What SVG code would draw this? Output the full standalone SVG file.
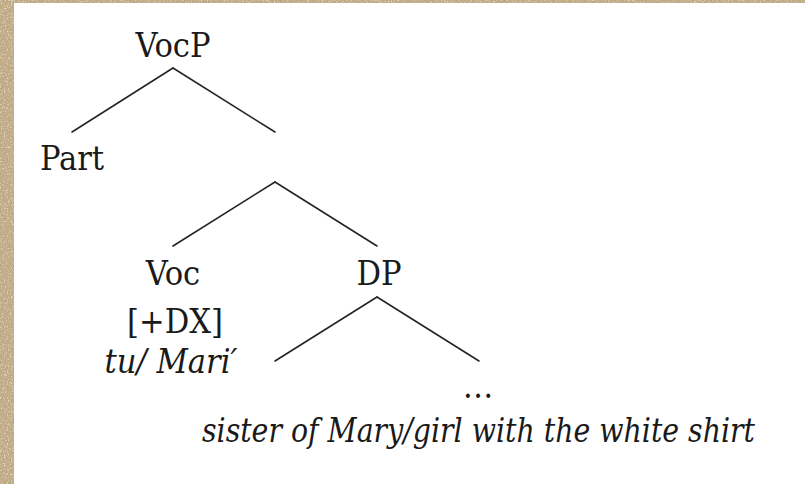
<svg xmlns="http://www.w3.org/2000/svg" width="805" height="484" viewBox="0 0 805 484">
  <defs>
    <!-- mottled paper grain for the frame -->
    <filter id="paper" x="0" y="0" width="100%" height="100%">
      <feTurbulence type="fractalNoise" baseFrequency="0.7" numOctaves="3" seed="4" result="noise"/>
      <feColorMatrix in="noise" type="matrix" values="0 0 0 0 0.45  0 0 0 0 0.37  0 0 0 0 0.25  0 0 0 3 -1.35" result="dark"/>
      <feColorMatrix in="noise" type="matrix" values="0 0 0 0 0.90  0 0 0 0 0.84  0 0 0 0 0.70  0 0 0 -3 1.25" result="light"/>
      <feMerge result="grain"><feMergeNode in="dark"/><feMergeNode in="light"/></feMerge>
      <feComposite in="grain" in2="SourceGraphic" operator="atop"/>
    </filter>
    <style>
      .lbl { font-family: 'DejaVu Serif', serif; font-stretch: condensed; font-size: 34px; fill: #1a1a1a; text-anchor: middle; }
      .it { font-style: italic; }
      .edge { stroke: #222; stroke-width: 1.5; stroke-linecap: round; fill: none; }
    </style>
  </defs>

  <!-- parchment frame with white page on top -->
  <rect x="0" y="0" width="805" height="484" fill="#c6b08a" filter="url(#paper)"/>
  <rect x="14" y="3" width="791" height="481" fill="#ffffff"/>

  <!-- tree branches -->
  <g id="connectors">
    <line class="edge" x1="173" y1="68" x2="72" y2="132"/>
    <line class="edge" x1="173" y1="68" x2="275" y2="132"/>
    <line class="edge" x1="275" y1="182" x2="173" y2="246"/>
    <line class="edge" x1="275" y1="182" x2="377" y2="246"/>
    <line class="edge" x1="377" y1="297" x2="275" y2="361"/>
    <line class="edge" x1="377" y1="297" x2="479" y2="361"/>
  </g>

  <g id="vocp"><text class="lbl" x="173" y="57">VocP</text></g>
  <g id="part"><text class="lbl" x="72" y="170">Part</text></g>
  <g id="voc">
    <text class="lbl" x="173" y="285">Voc</text>
    <text class="lbl" x="175" y="333">[+DX]</text>
    <text class="lbl it" x="171" y="373">tu/ Mari′</text>
  </g>
  <g id="dp"><text class="lbl" x="379" y="285">DP</text></g>
  <g id="dp-complement">
    <text class="lbl" x="478" y="398">…</text>
    <text class="lbl it" x="202" y="442" textLength="553" lengthAdjust="spacingAndGlyphs" style="text-anchor:start">sister of Mary/girl with the white shirt</text>
  </g>
</svg>
